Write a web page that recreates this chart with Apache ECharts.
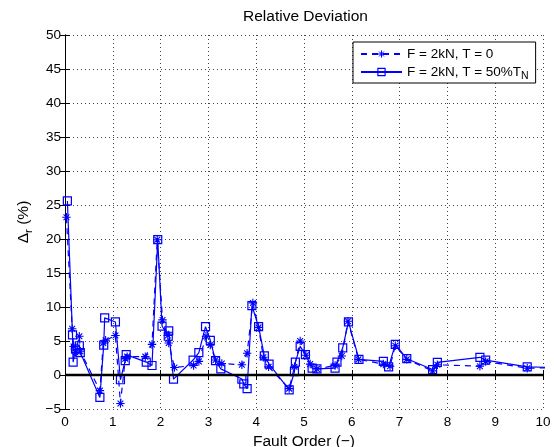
<!DOCTYPE html>
<html><head><meta charset="utf-8">
<script src="https://cdn.jsdelivr.net/npm/echarts@6/dist/echarts.min.js"></script>
<style>html,body{margin:0;padding:0;background:#fff;overflow:hidden}#c{width:554px;height:447px}</style>
</head><body><div id="c"></div>
<script>
// ---- data ----
const seriesNames = ['F = 2kN, T = 0', 'F = 2kN, T = 50%TN'];
const xT0 = [0.03, 0.15, 0.18, 0.22, 0.30, 0.32, 0.73, 0.80, 0.85, 1.055, 1.16, 1.26, 1.30, 1.68, 1.82, 1.93, 2.04, 2.15, 2.17, 2.29, 2.69, 2.80, 2.95, 3.04, 3.15, 3.28, 3.70, 3.81, 3.93, 4.05, 4.15, 4.26, 4.69, 4.80, 4.92, 5.04, 5.13, 5.27, 5.65, 5.79, 5.92, 6.14, 6.66, 6.80, 6.91, 7.15, 7.69, 7.79, 8.68, 8.80, 9.67, 10.3];
const yT0 = [23.2, 6.8, 4.2, 3.3, 5.7, 3.5, -2.3, 4.7, 5.1, 5.8, -4.2, 2.4, 2.7, 2.7, 4.5, 19.9, 8.1, 5.8, 4.7, 1.1, 1.4, 2.0, 5.7, 4.4, 2.2, 1.7, 1.5, 3.2, 10.6, 7.0, 2.6, 1.2, -2.0, 1.2, 5.0, 2.9, 1.6, 0.9, 1.4, 2.8, 7.9, 2.3, 1.6, 1.3, 4.3, 2.3, 0.6, 1.5, 1.3, 2.0, 1.0, 1.1];
const xT50 = [0.05, 0.157, 0.17, 0.22, 0.30, 0.32, 0.73, 0.81, 0.83, 1.055, 1.16, 1.26, 1.28, 1.70, 1.82, 1.94, 2.03, 2.16, 2.17, 2.27, 2.68, 2.80, 2.94, 3.04, 3.15, 3.26, 3.70, 3.74, 3.81, 3.91, 4.05, 4.17, 4.27, 4.69, 4.80, 4.82, 4.92, 5.03, 5.17, 5.27, 5.65, 5.69, 5.81, 5.93, 6.15, 6.66, 6.77, 6.91, 7.15, 7.69, 7.79, 8.68, 8.80, 9.67, 10.3];
const yT50 = [25.6, 5.9, 1.9, 3.8, 4.3, 3.3, -3.3, 4.4, 8.4, 7.8, -0.7, 2.1, 3.0, 1.9, 1.4, 19.9, 7.2, 5.7, 6.5, -0.6, 2.2, 3.3, 7.1, 5.1, 2.1, 0.9, -0.6, -1.3, -2.0, 10.2, 7.1, 2.8, 1.6, -2.2, 0.5, 1.9, 4.2, 3.0, 1.0, 0.9, 1.0, 1.9, 4.0, 7.8, 2.3, 2.0, 1.2, 4.5, 2.4, 0.8, 1.85, 2.6, 2.2, 1.2, 1.1];
const zeroX = [0, 10];
const zeroY = [0, 0];
const xTicks = [0, 1, 2, 3, 4, 5, 6, 7, 8, 9, 10];
const yTicks = [-5, 0, 5, 10, 15, 20, 25, 30, 35, 40, 45, 50];

const zip = (xs, ys) => xs.map((x, i) => [x, ys[i]]);
const FONT = '"Liberation Sans", Arial, Helvetica, sans-serif';
const BLUE = '#0000ff';
const asterisk = 'path://M0,5L10,5M5,0L5,10M1.6,1.6L8.4,8.4M1.6,8.4L8.4,1.6';
const square = 'path://M0,0L10,0L10,10L0,10Z';

const baseAxis = {
  axisLine: { show: true, lineStyle: { color: '#000', width: 1 } },
  axisTick: { show: true, inside: true, length: 5, lineStyle: { color: '#000' } },
  axisLabel: { show: false },
  splitLine: { show: false }
};

const chart = echarts.init(document.getElementById('c'), null, { renderer: 'canvas' });
chart.setOption({
  backgroundColor: '#fff',
  animation: false,
  textStyle: { fontFamily: FONT },
  title: {
    text: 'Relative Deviation', left: 238, top: 4,
    textStyle: { fontFamily: FONT, fontSize: 15.5, fontWeight: 'normal', color: '#000' }
  },
  grid: { left: 65, right: 11, top: 35, bottom: 38, containLabel: false, outerBoundsMode: 'none' },
  legend: {
    orient: 'vertical', left: 353, top: 42,
    itemWidth: 41, itemHeight: 9, itemGap: 4,
    padding: [5, 7, 1, 7],
    borderColor: '#000', borderWidth: 1, backgroundColor: '#fff',
    itemStyle: { borderWidth: 1 },
    data: [
      { name: seriesNames[0], itemStyle: { color: 'rgba(0,0,0,0)', borderColor: BLUE, borderWidth: 1 } },
      { name: seriesNames[1], itemStyle: { color: 'rgba(0,0,0,0)', borderColor: BLUE, borderWidth: 1.2 } }
    ],
    formatter: n => n === seriesNames[1] ? 'F = 2kN, T = 50%T{sub|N}' : n,
    textStyle: {
      fontFamily: FONT, fontSize: 13.5, color: '#000',
      rich: { sub: { fontFamily: FONT, fontSize: 10.5, padding: [9, 0, 0, 0], color: '#000' } }
    }
  },
  xAxis: [
    Object.assign({}, baseAxis, {
      type: 'value', min: 0, max: 10, interval: 1, position: 'bottom',
      axisLabel: { show: true, inside: false, margin: 6, fontFamily: FONT, fontSize: 13.5, color: '#000', formatter: v => xTicks.includes(v) ? String(v) : '' },
      splitLine: { show: true, lineStyle: { color: '#444', type: [1, 3], width: 1 } },
      name: 'Fault Order (\u2212)', nameLocation: 'middle', nameGap: 15,
      nameTextStyle: { fontFamily: FONT, fontSize: 15.5, color: '#000' }
    }),
    Object.assign({}, baseAxis, { type: 'value', min: 0, max: 10, interval: 1, position: 'top' })
  ],
  yAxis: [
    Object.assign({}, baseAxis, {
      type: 'value', min: -5, max: 50, interval: 5, position: 'left',
      axisLabel: { show: true, margin: 4, fontFamily: FONT, fontSize: 13.5, color: '#000', formatter: v => yTicks.includes(v) ? (v < 0 ? '\u2212' + Math.abs(v) : String(v)) : '' },
      splitLine: { show: true, lineStyle: { color: '#444', type: [1, 3], width: 1 } },
      name: '\u0394{sub|r} (%)', nameLocation: 'middle', nameRotate: 90, nameGap: 23.5,
      nameTextStyle: {
        fontFamily: FONT, fontSize: 15.5, color: '#000',
        rich: { sub: { fontFamily: FONT, fontSize: 11.5, padding: [9, 0, 0, 0], color: '#000' } }
      }
    }),
    Object.assign({}, baseAxis, { type: 'value', min: -5, max: 50, interval: 5, position: 'right' })
  ],
  series: [
    {
      name: seriesNames[0], type: 'line', data: zip(xT0, yT0),
      symbol: asterisk, symbolSize: 8.5,
      itemStyle: { color: 'rgba(0,0,0,0)', borderColor: BLUE, borderWidth: 1.1 },
      lineStyle: { color: BLUE, width: 1.2, type: [6, 5] },
      z: 3
    },
    {
      name: seriesNames[1], type: 'line', data: zip(xT50, yT50),
      symbol: square, symbolSize: 8,
      itemStyle: { color: 'rgba(0,0,0,0)', borderColor: BLUE, borderWidth: 1.2 },
      lineStyle: { color: BLUE, width: 1.2, type: 'solid' },
      z: 3
    },
    {
      name: 'zero', type: 'line', data: zip(zeroX, zeroY),
      symbol: 'none', lineStyle: { color: '#000', width: 2.5 }, z: 4, silent: true
    }
  ]
});
</script></body></html>
